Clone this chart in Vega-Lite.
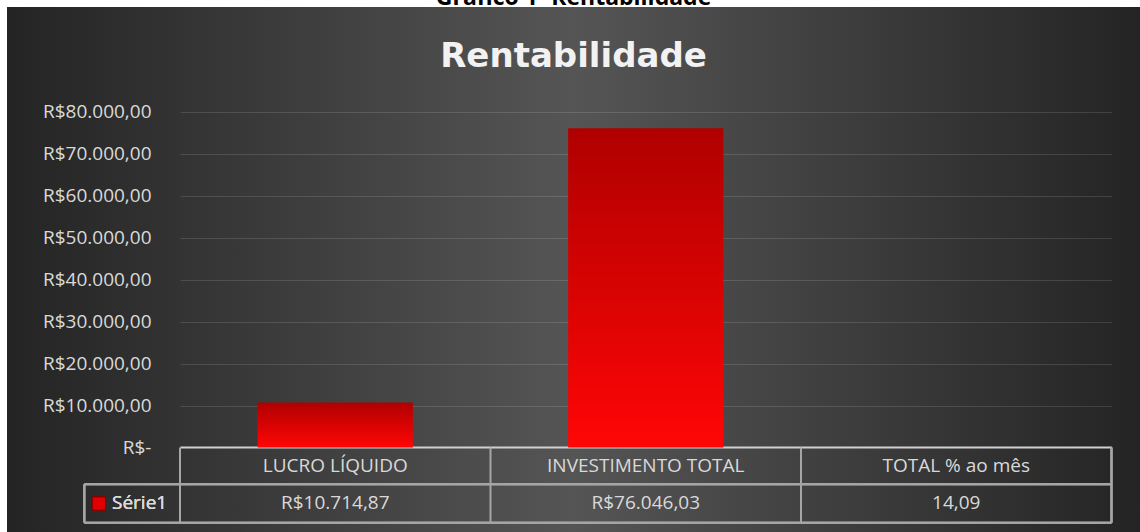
{
  "$schema": "https://vega.github.io/schema/vega-lite/v6.json",
  "width": 1133,
  "height": 525,
  "autosize": {"type": "none"},
  "padding": {"left": 7, "top": 7, "right": 0, "bottom": 0},
  "background": "#ffffff",
  "title": {
    "text": "Gráfico 1- Rentabilidade",
    "subtitle": "Rentabilidade",
    "anchor": "middle",
    "font": "Open Sans",
    "fontSize": 23,
    "fontWeight": "bold",
    "color": "#000000",
    "subtitleFont": "DejaVu Sans",
    "subtitleFontSize": 34,
    "subtitleFontWeight": "bold",
    "subtitleColor": "#f2f2f2",
    "subtitlePadding": 30.6,
    "offset": -67.4
  },
  "config": {
    "view": {
      "stroke": null,
      "fill": {
        "gradient": "linear",
        "x1": 0, "y1": 0, "x2": 1, "y2": 0,
        "stops": [
          {"offset": 0, "color": "#242424"},
          {"offset": 0.5, "color": "#555555"},
          {"offset": 1, "color": "#242424"}
        ]
      }
    },
    "font": "Open Sans"
  },
  "data": {
    "values": [
      {"cat": "LUCRO LÍQUIDO", "value": 10714.87, "display": "R$10.714,87"},
      {"cat": "INVESTIMENTO TOTAL", "value": 76046.03, "display": "R$76.046,03"},
      {"cat": "TOTAL % ao mês", "value": 14.09, "display": "14,09"}
    ]
  },
  "encoding": {
    "x": {
      "field": "cat",
      "type": "nominal",
      "sort": null,
      "scale": {"range": [173, 1104.5], "paddingInner": 0, "paddingOuter": 0},
      "axis": null
    }
  },
  "layer": [
    {
      "mark": {
        "type": "bar",
        "width": {"band": 0.5},
        "color": {
          "gradient": "linear",
          "x1": 0, "y1": 0, "x2": 0, "y2": 1,
          "stops": [
            {"offset": 0, "color": "#b00000"},
            {"offset": 1, "color": "#ff0606"}
          ]
        }
      },
      "encoding": {
        "y": {
          "field": "value",
          "type": "quantitative",
          "scale": {"domain": [-20131, 104943], "nice": false, "zero": false},
          "axis": {
            "orient": "left",
            "offset": -173,
            "values": [0, 10000, 20000, 30000, 40000, 50000, 60000, 70000, 80000],
            "domain": false,
            "ticks": false,
            "title": null,
            "labelPadding": 29,
            "labelFont": "Open Sans",
            "labelFontSize": 19,
            "labelColor": "#d9d9d9",
            "labelExpr": "datum.value === 0 ? 'R$-\u00a0\u00a0' : 'R$' + (datum.value / 1000) + '.000,00'",
            "grid": true,
            "gridColor": {"condition": {"test": "datum.value === 0", "value": "#d0d0d0"}, "value": "#ffffff"},
            "gridOpacity": {"condition": {"test": "datum.value === 0", "value": 1}, "value": 0.13},
            "gridWidth": {"condition": {"test": "datum.value === 0", "value": 2}, "value": 1}
          }
        }
      }
    },
    {
      "mark": {"type": "rule", "color": "#a6a6a6", "strokeWidth": 2},
      "encoding": {
        "x": {"field": "cat", "type": "nominal", "sort": null, "bandPosition": 0},
        "y": {"datum": 0},
        "y2": {"datum": -17915}
      }
    },
    {
      "mark": {"type": "rule", "color": "#a6a6a6", "strokeWidth": 2},
      "encoding": {
        "x": {"datum": "TOTAL % ao mês", "bandPosition": 1},
        "y": {"datum": 0},
        "y2": {"datum": -17915}
      }
    },
    {
      "mark": {"type": "rule", "color": "#a6a6a6", "strokeWidth": 2},
      "encoding": {
        "x": {"datum": "LUCRO LÍQUIDO", "bandPosition": -0.308},
        "y": {"datum": -8767},
        "y2": {"datum": -17915}
      }
    },
    {
      "mark": {"type": "rule", "color": "#a6a6a6", "strokeWidth": 2},
      "encoding": {
        "x": {"datum": "LUCRO LÍQUIDO", "bandPosition": -0.308},
        "x2": {"datum": "TOTAL % ao mês", "bandPosition": 1},
        "y": {"datum": -8767}
      }
    },
    {
      "mark": {"type": "rule", "color": "#a6a6a6", "strokeWidth": 2},
      "encoding": {
        "x": {"datum": "LUCRO LÍQUIDO", "bandPosition": -0.308},
        "x2": {"datum": "TOTAL % ao mês", "bandPosition": 1},
        "y": {"datum": -17915}
      }
    },
    {
      "mark": {"type": "text", "font": "Open Sans", "fontSize": 19, "color": "#d9d9d9", "baseline": "middle", "align": "center"},
      "encoding": {
        "y": {"datum": -4360},
        "text": {"field": "cat", "type": "nominal"}
      }
    },
    {
      "mark": {"type": "text", "font": "Open Sans", "fontSize": 19, "color": "#d9d9d9", "baseline": "middle", "align": "center"},
      "encoding": {
        "y": {"datum": -13341},
        "text": {"field": "display", "type": "nominal"}
      }
    },
    {
      "mark": {"type": "text", "font": "Open Sans", "fontSize": 19, "color": "#d9d9d9", "baseline": "middle", "align": "left"},
      "encoding": {
        "x": {"datum": "LUCRO LÍQUIDO", "bandPosition": -0.219},
        "y": {"datum": -13341},
        "text": {"value": "Série1"}
      }
    },
    {
      "mark": {"type": "point", "shape": "square", "filled": true, "size": 170, "color": "#e00000", "stroke": "#8a0000", "strokeWidth": 1, "opacity": 1},
      "encoding": {
        "x": {"datum": "LUCRO LÍQUIDO", "bandPosition": -0.261},
        "y": {"datum": -13341}
      }
    }
  ]
}
